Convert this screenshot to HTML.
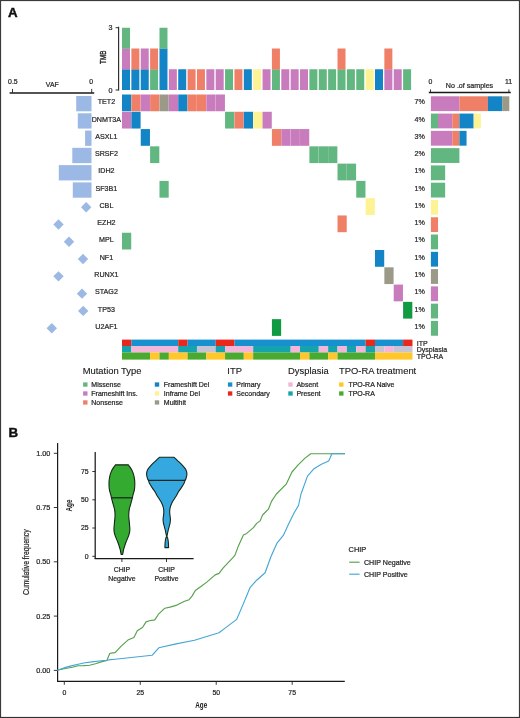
<!DOCTYPE html>
<html><head><meta charset="utf-8"><style>
html,body{margin:0;padding:0;background:#fff;}
#wrap{position:relative;width:520px;height:718px;overflow:hidden;background:#fff;}
svg{position:absolute;left:0;top:0;will-change:transform;}
svg text{font-family:"Liberation Sans",sans-serif;}
</style></head><body><div id="wrap">
<svg width="520" height="718" viewBox="0 0 520 718">
<rect x="0" y="0" width="520" height="718" fill="#fff"/>
<text x="8.00" y="17.30" font-size="13.3" text-anchor="start" fill="#111" font-weight="bold" stroke="#111" stroke-width="0.45">A</text>
<text x="8.50" y="436.50" font-size="13.3" text-anchor="start" fill="#111" font-weight="bold" stroke="#111" stroke-width="0.45">B</text>
<rect x="122.00" y="69.25" width="8.00" height="20.75" fill="#1384c5"/>
<rect x="122.00" y="48.50" width="8.00" height="21.00" fill="#c87bbd"/>
<rect x="122.00" y="27.75" width="8.00" height="21.00" fill="#62b67f"/>
<rect x="131.37" y="69.25" width="8.00" height="20.75" fill="#1384c5"/>
<rect x="131.37" y="48.50" width="8.00" height="21.00" fill="#f07f67"/>
<rect x="140.74" y="69.25" width="8.00" height="20.75" fill="#1384c5"/>
<rect x="140.74" y="48.50" width="8.00" height="21.00" fill="#c87bbd"/>
<rect x="150.11" y="69.25" width="8.00" height="20.75" fill="#62b67f"/>
<rect x="150.11" y="48.50" width="8.00" height="21.00" fill="#f07f67"/>
<rect x="159.48" y="48.50" width="8.00" height="41.50" fill="#1384c5"/>
<rect x="159.48" y="27.75" width="8.00" height="21.00" fill="#62b67f"/>
<rect x="168.85" y="69.25" width="8.00" height="20.75" fill="#c87bbd"/>
<rect x="178.22" y="69.25" width="8.00" height="20.75" fill="#1384c5"/>
<rect x="187.59" y="69.25" width="8.00" height="20.75" fill="#f07f67"/>
<rect x="196.96" y="69.25" width="8.00" height="20.75" fill="#f07f67"/>
<rect x="206.33" y="69.25" width="8.00" height="20.75" fill="#c87bbd"/>
<rect x="215.70" y="69.25" width="8.00" height="20.75" fill="#c87bbd"/>
<rect x="225.07" y="69.25" width="8.00" height="20.75" fill="#62b67f"/>
<rect x="234.44" y="69.25" width="8.00" height="20.75" fill="#f07f67"/>
<rect x="243.81" y="69.25" width="8.00" height="20.75" fill="#1384c5"/>
<rect x="253.18" y="69.25" width="8.00" height="20.75" fill="#fdf294"/>
<rect x="262.55" y="69.25" width="8.00" height="20.75" fill="#c87bbd"/>
<rect x="271.92" y="69.25" width="8.00" height="20.75" fill="#62b67f"/>
<rect x="271.92" y="48.50" width="8.00" height="21.00" fill="#f07f67"/>
<rect x="281.29" y="69.25" width="8.00" height="20.75" fill="#c87bbd"/>
<rect x="290.66" y="69.25" width="8.00" height="20.75" fill="#c87bbd"/>
<rect x="300.03" y="69.25" width="8.00" height="20.75" fill="#c87bbd"/>
<rect x="309.40" y="69.25" width="8.00" height="20.75" fill="#62b67f"/>
<rect x="318.77" y="69.25" width="8.00" height="20.75" fill="#62b67f"/>
<rect x="328.14" y="69.25" width="8.00" height="20.75" fill="#62b67f"/>
<rect x="337.51" y="69.25" width="8.00" height="20.75" fill="#62b67f"/>
<rect x="337.51" y="48.50" width="8.00" height="21.00" fill="#f07f67"/>
<rect x="346.88" y="69.25" width="8.00" height="20.75" fill="#62b67f"/>
<rect x="356.25" y="69.25" width="8.00" height="20.75" fill="#62b67f"/>
<rect x="365.62" y="69.25" width="8.00" height="20.75" fill="#fdf294"/>
<rect x="374.99" y="69.25" width="8.00" height="20.75" fill="#1384c5"/>
<rect x="384.36" y="69.25" width="8.00" height="20.75" fill="#c87bbd"/>
<rect x="384.36" y="48.50" width="8.00" height="21.00" fill="#f07f67"/>
<rect x="393.73" y="69.25" width="8.00" height="20.75" fill="#c87bbd"/>
<rect x="403.10" y="69.25" width="8.00" height="20.75" fill="#62b67f"/>
<line x1="118.60" y1="26.80" x2="118.60" y2="90.60" stroke="#2a2a2a" stroke-width="1.15"/>
<line x1="115.60" y1="27.70" x2="118.60" y2="27.70" stroke="#2a2a2a" stroke-width="1.0"/>
<line x1="115.60" y1="90.00" x2="118.60" y2="90.00" stroke="#2a2a2a" stroke-width="1.0"/>
<text x="112.50" y="30.20" font-size="7.2" text-anchor="end" fill="#262626" stroke="#262626" stroke-width="0.22">3</text>
<text x="112.50" y="92.60" font-size="7.2" text-anchor="end" fill="#262626" stroke="#262626" stroke-width="0.22">0</text>
<text transform="translate(106.3,57.3) rotate(-90) scale(0.66,1)" font-size="9.5" text-anchor="middle" fill="#1a1a1a" stroke="#1a1a1a" stroke-width="0.35">TMB</text>
<rect x="122.00" y="94.50" width="9.22" height="16.75" fill="#1384c5"/>
<rect x="131.37" y="94.50" width="9.22" height="16.75" fill="#f07f67"/>
<rect x="140.74" y="94.50" width="9.22" height="16.75" fill="#c87bbd"/>
<rect x="150.11" y="94.50" width="9.22" height="16.75" fill="#f07f67"/>
<rect x="159.48" y="94.50" width="9.22" height="16.75" fill="#9b9a89"/>
<rect x="168.85" y="94.50" width="9.22" height="16.75" fill="#c87bbd"/>
<rect x="178.22" y="94.50" width="9.22" height="16.75" fill="#1384c5"/>
<rect x="187.59" y="94.50" width="9.22" height="16.75" fill="#f07f67"/>
<rect x="196.96" y="94.50" width="9.22" height="16.75" fill="#f07f67"/>
<rect x="206.33" y="94.50" width="9.22" height="16.75" fill="#c87bbd"/>
<rect x="215.70" y="94.50" width="9.22" height="16.75" fill="#c87bbd"/>
<rect x="122.00" y="111.78" width="9.22" height="16.75" fill="#c87bbd"/>
<rect x="131.37" y="111.78" width="9.22" height="16.75" fill="#1384c5"/>
<rect x="225.07" y="111.78" width="9.22" height="16.75" fill="#62b67f"/>
<rect x="234.44" y="111.78" width="9.22" height="16.75" fill="#f07f67"/>
<rect x="243.81" y="111.78" width="9.22" height="16.75" fill="#1384c5"/>
<rect x="253.18" y="111.78" width="9.22" height="16.75" fill="#fdf294"/>
<rect x="262.55" y="111.78" width="9.22" height="16.75" fill="#c87bbd"/>
<rect x="140.74" y="129.06" width="9.22" height="16.75" fill="#1384c5"/>
<rect x="271.92" y="129.06" width="9.22" height="16.75" fill="#f07f67"/>
<rect x="281.29" y="129.06" width="9.22" height="16.75" fill="#c87bbd"/>
<rect x="290.66" y="129.06" width="9.22" height="16.75" fill="#c87bbd"/>
<rect x="300.03" y="129.06" width="9.22" height="16.75" fill="#c87bbd"/>
<rect x="150.11" y="146.34" width="9.22" height="16.75" fill="#62b67f"/>
<rect x="309.40" y="146.34" width="9.22" height="16.75" fill="#62b67f"/>
<rect x="318.77" y="146.34" width="9.22" height="16.75" fill="#62b67f"/>
<rect x="328.14" y="146.34" width="9.22" height="16.75" fill="#62b67f"/>
<rect x="337.51" y="163.62" width="9.22" height="16.75" fill="#62b67f"/>
<rect x="346.88" y="163.62" width="9.22" height="16.75" fill="#62b67f"/>
<rect x="159.48" y="180.90" width="9.22" height="16.75" fill="#62b67f"/>
<rect x="356.25" y="180.90" width="9.22" height="16.75" fill="#62b67f"/>
<rect x="365.62" y="198.18" width="9.22" height="16.75" fill="#fdf294"/>
<rect x="337.51" y="215.46" width="9.22" height="16.75" fill="#f07f67"/>
<rect x="122.00" y="232.74" width="9.22" height="16.75" fill="#62b67f"/>
<rect x="374.99" y="250.02" width="9.22" height="16.75" fill="#1384c5"/>
<rect x="384.36" y="267.30" width="9.22" height="16.75" fill="#9b9a89"/>
<rect x="393.73" y="284.58" width="9.22" height="16.75" fill="#c87bbd"/>
<rect x="403.10" y="301.86" width="9.22" height="16.75" fill="#109b42"/>
<rect x="271.92" y="319.14" width="9.22" height="16.75" fill="#109b42"/>
<rect x="122.00" y="339.60" width="9.37" height="6.45" fill="#e8281c"/>
<rect x="131.37" y="339.60" width="46.85" height="6.45" fill="#1690ce"/>
<rect x="178.22" y="339.60" width="9.37" height="6.45" fill="#e8281c"/>
<rect x="187.59" y="339.60" width="28.11" height="6.45" fill="#1690ce"/>
<rect x="215.70" y="339.60" width="18.74" height="6.45" fill="#e8281c"/>
<rect x="234.44" y="339.60" width="131.18" height="6.45" fill="#1690ce"/>
<rect x="365.62" y="339.60" width="9.37" height="6.45" fill="#e8281c"/>
<rect x="374.99" y="339.60" width="28.11" height="6.45" fill="#1690ce"/>
<rect x="403.10" y="339.60" width="9.37" height="6.45" fill="#e8281c"/>
<rect x="122.00" y="346.00" width="9.37" height="6.55" fill="#15a3ae"/>
<rect x="131.37" y="346.00" width="46.85" height="6.55" fill="#f3b6d8"/>
<rect x="178.22" y="346.00" width="18.74" height="6.55" fill="#15a3ae"/>
<rect x="196.96" y="346.00" width="18.74" height="6.55" fill="#c6c3d2"/>
<rect x="215.70" y="346.00" width="9.37" height="6.55" fill="#15a3ae"/>
<rect x="225.07" y="346.00" width="28.11" height="6.55" fill="#f3b6d8"/>
<rect x="253.18" y="346.00" width="37.48" height="6.55" fill="#15a3ae"/>
<rect x="290.66" y="346.00" width="9.37" height="6.55" fill="#f3b6d8"/>
<rect x="300.03" y="346.00" width="18.74" height="6.55" fill="#15a3ae"/>
<rect x="318.77" y="346.00" width="9.37" height="6.55" fill="#f3b6d8"/>
<rect x="328.14" y="346.00" width="9.37" height="6.55" fill="#15a3ae"/>
<rect x="337.51" y="346.00" width="9.37" height="6.55" fill="#f3b6d8"/>
<rect x="346.88" y="346.00" width="9.37" height="6.55" fill="#15a3ae"/>
<rect x="356.25" y="346.00" width="9.37" height="6.55" fill="#f3b6d8"/>
<rect x="365.62" y="346.00" width="9.37" height="6.55" fill="#15a3ae"/>
<rect x="374.99" y="346.00" width="9.37" height="6.55" fill="#c6c3d2"/>
<rect x="384.36" y="346.00" width="9.37" height="6.55" fill="#f3b6d8"/>
<rect x="393.73" y="346.00" width="18.74" height="6.55" fill="#c6c3d2"/>
<rect x="122.00" y="352.50" width="28.11" height="7.10" fill="#4aaa2f"/>
<rect x="150.11" y="352.50" width="9.37" height="7.10" fill="#ffc72a"/>
<rect x="159.48" y="352.50" width="9.37" height="7.10" fill="#4aaa2f"/>
<rect x="168.85" y="352.50" width="18.74" height="7.10" fill="#ffc72a"/>
<rect x="187.59" y="352.50" width="18.74" height="7.10" fill="#4aaa2f"/>
<rect x="206.33" y="352.50" width="18.74" height="7.10" fill="#ffc72a"/>
<rect x="225.07" y="352.50" width="18.74" height="7.10" fill="#4aaa2f"/>
<rect x="243.81" y="352.50" width="9.37" height="7.10" fill="#ffc72a"/>
<rect x="253.18" y="352.50" width="46.85" height="7.10" fill="#4aaa2f"/>
<rect x="300.03" y="352.50" width="9.37" height="7.10" fill="#ffc72a"/>
<rect x="309.40" y="352.50" width="18.74" height="7.10" fill="#4aaa2f"/>
<rect x="328.14" y="352.50" width="9.37" height="7.10" fill="#ffc72a"/>
<rect x="337.51" y="352.50" width="37.48" height="7.10" fill="#4aaa2f"/>
<rect x="374.99" y="352.50" width="37.48" height="7.10" fill="#ffc72a"/>
<text x="416.80" y="345.50" font-size="7.0" text-anchor="start" fill="#262626" stroke="#262626" stroke-width="0.22">ITP</text>
<text x="416.80" y="352.00" font-size="7.0" text-anchor="start" fill="#262626" stroke="#262626" stroke-width="0.22">Dysplasia</text>
<text x="416.80" y="359.20" font-size="7.0" text-anchor="start" fill="#262626" stroke="#262626" stroke-width="0.22">TPO-RA</text>
<text transform="translate(106.40,104.25) scale(0.93,1)" font-size="7.7" text-anchor="middle" fill="#262626" stroke="#262626" stroke-width="0.22">TET2</text>
<text transform="translate(106.40,121.53) scale(0.93,1)" font-size="7.7" text-anchor="middle" fill="#262626" stroke="#262626" stroke-width="0.22">DNMT3A</text>
<text transform="translate(106.40,138.81) scale(0.93,1)" font-size="7.7" text-anchor="middle" fill="#262626" stroke="#262626" stroke-width="0.22">ASXL1</text>
<text transform="translate(106.40,156.09) scale(0.93,1)" font-size="7.7" text-anchor="middle" fill="#262626" stroke="#262626" stroke-width="0.22">SRSF2</text>
<text transform="translate(106.40,173.37) scale(0.93,1)" font-size="7.7" text-anchor="middle" fill="#262626" stroke="#262626" stroke-width="0.22">IDH2</text>
<text transform="translate(106.40,190.65) scale(0.93,1)" font-size="7.7" text-anchor="middle" fill="#262626" stroke="#262626" stroke-width="0.22">SF3B1</text>
<text transform="translate(106.40,207.93) scale(0.93,1)" font-size="7.7" text-anchor="middle" fill="#262626" stroke="#262626" stroke-width="0.22">CBL</text>
<text transform="translate(106.40,225.21) scale(0.93,1)" font-size="7.7" text-anchor="middle" fill="#262626" stroke="#262626" stroke-width="0.22">EZH2</text>
<text transform="translate(106.40,242.49) scale(0.93,1)" font-size="7.7" text-anchor="middle" fill="#262626" stroke="#262626" stroke-width="0.22">MPL</text>
<text transform="translate(106.40,259.77) scale(0.93,1)" font-size="7.7" text-anchor="middle" fill="#262626" stroke="#262626" stroke-width="0.22">NF1</text>
<text transform="translate(106.40,277.05) scale(0.93,1)" font-size="7.7" text-anchor="middle" fill="#262626" stroke="#262626" stroke-width="0.22">RUNX1</text>
<text transform="translate(106.40,294.33) scale(0.93,1)" font-size="7.7" text-anchor="middle" fill="#262626" stroke="#262626" stroke-width="0.22">STAG2</text>
<text transform="translate(106.40,311.61) scale(0.93,1)" font-size="7.7" text-anchor="middle" fill="#262626" stroke="#262626" stroke-width="0.22">TP53</text>
<text transform="translate(106.40,328.89) scale(0.93,1)" font-size="7.7" text-anchor="middle" fill="#262626" stroke="#262626" stroke-width="0.22">U2AF1</text>
<line x1="9.60" y1="93.00" x2="94.20" y2="93.00" stroke="#1a1a1a" stroke-width="1.4"/>
<line x1="12.50" y1="88.90" x2="12.50" y2="92.90" stroke="#222" stroke-width="0.9"/>
<line x1="91.70" y1="88.90" x2="91.70" y2="92.90" stroke="#222" stroke-width="0.9"/>
<text x="12.90" y="83.80" font-size="6.9" text-anchor="middle" fill="#262626" stroke="#262626" stroke-width="0.22">0.5</text>
<text x="91.20" y="83.80" font-size="6.9" text-anchor="middle" fill="#262626" stroke="#262626" stroke-width="0.22">0</text>
<text x="52.30" y="86.90" font-size="6.9" text-anchor="middle" fill="#262626" stroke="#262626" stroke-width="0.22">VAF</text>
<rect x="76.20" y="96.00" width="15.30" height="15.30" fill="#9cb8e4"/>
<rect x="77.80" y="113.28" width="13.70" height="15.30" fill="#9cb8e4"/>
<rect x="85.10" y="130.56" width="6.40" height="15.30" fill="#9cb8e4"/>
<rect x="72.30" y="147.84" width="19.20" height="15.30" fill="#9cb8e4"/>
<rect x="58.80" y="165.12" width="32.70" height="15.30" fill="#9cb8e4"/>
<rect x="72.80" y="182.40" width="18.70" height="15.30" fill="#9cb8e4"/>
<path d="M86.20 202.03 L91.40 207.23 L86.20 212.43 L81.00 207.23 Z" fill="#9cb8e4"/>
<path d="M58.50 219.31 L63.70 224.51 L58.50 229.71 L53.30 224.51 Z" fill="#9cb8e4"/>
<path d="M69.00 236.59 L74.20 241.79 L69.00 246.99 L63.80 241.79 Z" fill="#9cb8e4"/>
<path d="M83.00 253.87 L88.20 259.07 L83.00 264.27 L77.80 259.07 Z" fill="#9cb8e4"/>
<path d="M58.50 271.15 L63.70 276.35 L58.50 281.55 L53.30 276.35 Z" fill="#9cb8e4"/>
<path d="M82.00 288.43 L87.20 293.63 L82.00 298.83 L76.80 293.63 Z" fill="#9cb8e4"/>
<path d="M83.20 305.71 L88.40 310.91 L83.20 316.11 L78.00 310.91 Z" fill="#9cb8e4"/>
<path d="M51.80 322.99 L57.00 328.19 L51.80 333.39 L46.60 328.19 Z" fill="#9cb8e4"/>
<line x1="428.80" y1="92.50" x2="510.80" y2="92.50" stroke="#1a1a1a" stroke-width="1.3"/>
<line x1="430.50" y1="89.40" x2="430.50" y2="92.40" stroke="#222" stroke-width="0.9"/>
<line x1="508.90" y1="89.40" x2="508.90" y2="92.40" stroke="#222" stroke-width="0.9"/>
<text x="430.50" y="83.80" font-size="6.9" text-anchor="middle" fill="#262626" stroke="#262626" stroke-width="0.22">0</text>
<text x="508.60" y="83.80" font-size="6.9" text-anchor="middle" fill="#262626" stroke="#262626" stroke-width="0.22">11</text>
<text x="469.50" y="87.50" font-size="7.1" text-anchor="middle" fill="#262626" stroke="#262626" stroke-width="0.22">No .of samples</text>
<rect x="430.90" y="96.30" width="28.52" height="14.80" fill="#c87bbd"/>
<rect x="459.42" y="96.30" width="28.52" height="14.80" fill="#f07f67"/>
<rect x="487.94" y="96.30" width="14.26" height="14.80" fill="#1384c5"/>
<rect x="502.20" y="96.30" width="7.13" height="14.80" fill="#9b9a89"/>
<text transform="translate(424.80,104.25) scale(0.93,1)" font-size="7.7" text-anchor="end" fill="#262626" stroke="#262626" stroke-width="0.22">7%</text>
<rect x="430.90" y="113.58" width="7.13" height="14.80" fill="#62b67f"/>
<rect x="438.03" y="113.58" width="14.26" height="14.80" fill="#c87bbd"/>
<rect x="452.29" y="113.58" width="7.13" height="14.80" fill="#f07f67"/>
<rect x="459.42" y="113.58" width="14.26" height="14.80" fill="#1384c5"/>
<rect x="473.68" y="113.58" width="7.13" height="14.80" fill="#fdf294"/>
<text transform="translate(424.80,121.53) scale(0.93,1)" font-size="7.7" text-anchor="end" fill="#262626" stroke="#262626" stroke-width="0.22">4%</text>
<rect x="430.90" y="130.86" width="21.39" height="14.80" fill="#c87bbd"/>
<rect x="452.29" y="130.86" width="7.13" height="14.80" fill="#f07f67"/>
<rect x="459.42" y="130.86" width="7.13" height="14.80" fill="#1384c5"/>
<text transform="translate(424.80,138.81) scale(0.93,1)" font-size="7.7" text-anchor="end" fill="#262626" stroke="#262626" stroke-width="0.22">3%</text>
<rect x="430.90" y="148.14" width="28.52" height="14.80" fill="#62b67f"/>
<text transform="translate(424.80,156.09) scale(0.93,1)" font-size="7.7" text-anchor="end" fill="#262626" stroke="#262626" stroke-width="0.22">2%</text>
<rect x="430.90" y="165.42" width="14.26" height="14.80" fill="#62b67f"/>
<text transform="translate(424.80,173.37) scale(0.93,1)" font-size="7.7" text-anchor="end" fill="#262626" stroke="#262626" stroke-width="0.22">1%</text>
<rect x="430.90" y="182.70" width="14.26" height="14.80" fill="#62b67f"/>
<text transform="translate(424.80,190.65) scale(0.93,1)" font-size="7.7" text-anchor="end" fill="#262626" stroke="#262626" stroke-width="0.22">1%</text>
<rect x="430.90" y="199.98" width="7.13" height="14.80" fill="#fdf294"/>
<text transform="translate(424.80,207.93) scale(0.93,1)" font-size="7.7" text-anchor="end" fill="#262626" stroke="#262626" stroke-width="0.22">1%</text>
<rect x="430.90" y="217.26" width="7.13" height="14.80" fill="#f07f67"/>
<text transform="translate(424.80,225.21) scale(0.93,1)" font-size="7.7" text-anchor="end" fill="#262626" stroke="#262626" stroke-width="0.22">1%</text>
<rect x="430.90" y="234.54" width="7.13" height="14.80" fill="#62b67f"/>
<text transform="translate(424.80,242.49) scale(0.93,1)" font-size="7.7" text-anchor="end" fill="#262626" stroke="#262626" stroke-width="0.22">1%</text>
<rect x="430.90" y="251.82" width="7.13" height="14.80" fill="#1384c5"/>
<text transform="translate(424.80,259.77) scale(0.93,1)" font-size="7.7" text-anchor="end" fill="#262626" stroke="#262626" stroke-width="0.22">1%</text>
<rect x="430.90" y="269.10" width="7.13" height="14.80" fill="#9b9a89"/>
<text transform="translate(424.80,277.05) scale(0.93,1)" font-size="7.7" text-anchor="end" fill="#262626" stroke="#262626" stroke-width="0.22">1%</text>
<rect x="430.90" y="286.38" width="7.13" height="14.80" fill="#c87bbd"/>
<text transform="translate(424.80,294.33) scale(0.93,1)" font-size="7.7" text-anchor="end" fill="#262626" stroke="#262626" stroke-width="0.22">1%</text>
<rect x="430.90" y="303.66" width="7.13" height="14.80" fill="#62b67f"/>
<text transform="translate(424.80,311.61) scale(0.93,1)" font-size="7.7" text-anchor="end" fill="#262626" stroke="#262626" stroke-width="0.22">1%</text>
<rect x="430.90" y="320.94" width="7.13" height="14.80" fill="#62b67f"/>
<text transform="translate(424.80,328.89) scale(0.93,1)" font-size="7.7" text-anchor="end" fill="#262626" stroke="#262626" stroke-width="0.22">1%</text>
<text x="82.70" y="374.40" font-size="9.4" text-anchor="start" fill="#1a1a1a" stroke="#1a1a1a" stroke-width="0.12">Mutation Type</text>
<rect x="83.10" y="382.40" width="4.40" height="4.30" fill="#62b67f"/>
<text x="91.30" y="387.10" font-size="7.0" text-anchor="start" fill="#262626" stroke="#262626" stroke-width="0.22">Missense</text>
<rect x="83.10" y="391.35" width="4.40" height="4.30" fill="#c87bbd"/>
<text x="91.30" y="396.05" font-size="7.0" text-anchor="start" fill="#262626" stroke="#262626" stroke-width="0.22">Frameshift Ins.</text>
<rect x="83.10" y="400.30" width="4.40" height="4.30" fill="#f07f67"/>
<text x="91.30" y="405.00" font-size="7.0" text-anchor="start" fill="#262626" stroke="#262626" stroke-width="0.22">Nonsense</text>
<rect x="154.80" y="382.40" width="4.40" height="4.30" fill="#1384c5"/>
<text x="163.80" y="387.10" font-size="7.0" text-anchor="start" fill="#262626" stroke="#262626" stroke-width="0.22">Frameshift Del</text>
<rect x="154.80" y="391.35" width="4.40" height="4.30" fill="#fdf294"/>
<text x="163.80" y="396.05" font-size="7.0" text-anchor="start" fill="#262626" stroke="#262626" stroke-width="0.22">Inframe Del</text>
<rect x="154.80" y="400.30" width="4.40" height="4.30" fill="#9b9a89"/>
<text x="163.80" y="405.00" font-size="7.0" text-anchor="start" fill="#262626" stroke="#262626" stroke-width="0.22">Multihit</text>
<text x="227.30" y="374.40" font-size="9.4" text-anchor="start" fill="#1a1a1a" stroke="#1a1a1a" stroke-width="0.12">ITP</text>
<rect x="227.90" y="382.40" width="4.40" height="4.30" fill="#1690ce"/>
<text x="236.30" y="387.10" font-size="7.0" text-anchor="start" fill="#262626" stroke="#262626" stroke-width="0.22">Primary</text>
<rect x="227.90" y="391.35" width="4.40" height="4.30" fill="#e8281c"/>
<text x="236.30" y="396.05" font-size="7.0" text-anchor="start" fill="#262626" stroke="#262626" stroke-width="0.22">Secondary</text>
<text x="288.10" y="374.40" font-size="9.4" text-anchor="start" fill="#1a1a1a" stroke="#1a1a1a" stroke-width="0.12">Dysplasia</text>
<rect x="288.30" y="382.40" width="4.40" height="4.30" fill="#f3b6d8"/>
<text x="296.40" y="387.10" font-size="7.0" text-anchor="start" fill="#262626" stroke="#262626" stroke-width="0.22">Absent</text>
<rect x="288.30" y="391.35" width="4.40" height="4.30" fill="#15a3ae"/>
<text x="296.40" y="396.05" font-size="7.0" text-anchor="start" fill="#262626" stroke="#262626" stroke-width="0.22">Present</text>
<text x="339.10" y="374.40" font-size="9.4" text-anchor="start" fill="#1a1a1a" stroke="#1a1a1a" stroke-width="0.12">TPO-RA treatment</text>
<rect x="339.10" y="382.40" width="4.40" height="4.30" fill="#ffc72a"/>
<text x="348.40" y="387.10" font-size="7.0" text-anchor="start" fill="#262626" stroke="#262626" stroke-width="0.22">TPO-RA Naive</text>
<rect x="339.10" y="391.35" width="4.40" height="4.30" fill="#4aaa2f"/>
<text x="348.40" y="396.05" font-size="7.0" text-anchor="start" fill="#262626" stroke="#262626" stroke-width="0.22">TPO-RA</text>
<line x1="57.60" y1="443.00" x2="57.60" y2="681.60" stroke="#1a1a1a" stroke-width="1.2"/>
<line x1="57.00" y1="681.30" x2="344.80" y2="681.30" stroke="#1a1a1a" stroke-width="1.25"/>
<line x1="53.80" y1="453.30" x2="57.60" y2="453.30" stroke="#222" stroke-width="0.9"/>
<text x="50.40" y="455.80" font-size="7.3" text-anchor="end" fill="#262626" stroke="#262626" stroke-width="0.22">1.00</text>
<line x1="53.80" y1="507.50" x2="57.60" y2="507.50" stroke="#222" stroke-width="0.9"/>
<text x="50.40" y="510.00" font-size="7.3" text-anchor="end" fill="#262626" stroke="#262626" stroke-width="0.22">0.75</text>
<line x1="53.80" y1="561.80" x2="57.60" y2="561.80" stroke="#222" stroke-width="0.9"/>
<text x="50.40" y="564.30" font-size="7.3" text-anchor="end" fill="#262626" stroke="#262626" stroke-width="0.22">0.50</text>
<line x1="53.80" y1="616.10" x2="57.60" y2="616.10" stroke="#222" stroke-width="0.9"/>
<text x="50.40" y="618.60" font-size="7.3" text-anchor="end" fill="#262626" stroke="#262626" stroke-width="0.22">0.25</text>
<line x1="53.80" y1="670.40" x2="57.60" y2="670.40" stroke="#222" stroke-width="0.9"/>
<text x="50.40" y="672.90" font-size="7.3" text-anchor="end" fill="#262626" stroke="#262626" stroke-width="0.22">0.00</text>
<line x1="64.30" y1="681.30" x2="64.30" y2="684.80" stroke="#222" stroke-width="0.9"/>
<text x="64.30" y="695.10" font-size="6.9" text-anchor="middle" fill="#262626" stroke="#262626" stroke-width="0.22">0</text>
<line x1="140.27" y1="681.30" x2="140.27" y2="684.80" stroke="#222" stroke-width="0.9"/>
<text x="140.27" y="695.10" font-size="6.9" text-anchor="middle" fill="#262626" stroke="#262626" stroke-width="0.22">25</text>
<line x1="216.23" y1="681.30" x2="216.23" y2="684.80" stroke="#222" stroke-width="0.9"/>
<text x="216.23" y="695.10" font-size="6.9" text-anchor="middle" fill="#262626" stroke="#262626" stroke-width="0.22">50</text>
<line x1="292.20" y1="681.30" x2="292.20" y2="684.80" stroke="#222" stroke-width="0.9"/>
<text x="292.20" y="695.10" font-size="6.9" text-anchor="middle" fill="#262626" stroke="#262626" stroke-width="0.22">75</text>
<text transform="translate(201.2,708.3) scale(0.77,1)" font-size="8.2" text-anchor="middle" fill="#1a1a1a" font-weight="bold">Age</text>
<text transform="translate(29.4,562.2) rotate(-90) scale(0.83,1)" font-size="8.2" stroke="#222" stroke-width="0.2" text-anchor="middle" fill="#222">Cumulative frequency</text>
<path d="M57.30 670.20 L64.20 668.80 L72.30 667.20 L78.10 665.80 L83.80 665.60 L89.60 665.20 L95.40 663.70 L101.20 661.90 L106.90 660.50 L107.40 659.30 L109.70 653.50 L112.40 652.90 L115.10 652.60 L121.20 646.10 L127.90 640.10 L133.90 637.40 L137.30 630.70 L142.70 627.30 L146.00 621.90 L149.40 620.80 L154.80 619.90 L158.80 613.80 L164.90 608.20 L170.00 607.10 L176.90 605.10 L184.60 601.30 L189.10 599.70 L192.20 595.90 L195.30 590.50 L200.60 586.70 L206.80 582.10 L215.20 574.90 L219.00 573.40 L222.80 568.30 L233.60 556.80 L235.00 555.10 L238.40 545.90 L243.40 535.10 L246.70 533.40 L253.40 527.60 L256.70 523.40 L260.10 520.90 L262.60 515.00 L268.40 509.20 L271.50 501.40 L276.40 494.00 L286.20 484.20 L292.00 472.00 L297.70 465.40 L305.00 458.10 L310.80 453.70 L345.00 453.70" fill="none" stroke="#55a24a" stroke-width="1.15" stroke-linejoin="round"/>
<path d="M57.30 670.20 L66.50 667.10 L72.30 665.60 L78.10 664.20 L85.00 662.80 L91.90 661.90 L101.20 660.80 L106.90 660.20 L110.40 659.60 L115.00 659.20 L152.10 655.30 L158.80 647.80 L175.00 644.10 L194.50 640.30 L219.00 632.70 L225.10 628.10 L236.70 619.40 L243.40 603.60 L250.00 587.70 L256.70 580.20 L265.10 572.70 L270.90 556.80 L276.80 543.40 L283.50 535.10 L288.50 524.20 L294.30 512.50 L298.50 505.50 L301.00 494.00 L307.50 476.10 L314.00 468.70 L321.40 464.30 L328.70 461.00 L330.40 457.30 L331.70 453.70 L345.00 453.70" fill="none" stroke="#45a6d6" stroke-width="1.15" stroke-linejoin="round"/>
<text x="348.60" y="552.10" font-size="7.4" text-anchor="start" fill="#262626" stroke="#262626" stroke-width="0.22">CHIP</text>
<line x1="349.20" y1="562.20" x2="359.60" y2="562.20" stroke="#55a24a" stroke-width="1.15"/>
<line x1="349.20" y1="574.20" x2="359.60" y2="574.20" stroke="#45a6d6" stroke-width="1.15"/>
<text x="364.00" y="565.20" font-size="7.1" text-anchor="start" fill="#262626" stroke="#262626" stroke-width="0.22">CHIP Negative</text>
<text x="364.00" y="577.20" font-size="7.1" text-anchor="start" fill="#262626" stroke="#262626" stroke-width="0.22">CHIP Positive</text>
<line x1="95.20" y1="452.10" x2="95.20" y2="558.90" stroke="#1a1a1a" stroke-width="1.25"/>
<line x1="94.70" y1="558.70" x2="193.60" y2="558.70" stroke="#1a1a1a" stroke-width="1.25"/>
<line x1="92.30" y1="471.50" x2="95.30" y2="471.50" stroke="#222" stroke-width="0.9"/>
<text x="88.60" y="473.90" font-size="6.9" text-anchor="end" fill="#262626" stroke="#262626" stroke-width="0.22">75</text>
<line x1="92.30" y1="499.80" x2="95.30" y2="499.80" stroke="#222" stroke-width="0.9"/>
<text x="88.60" y="502.20" font-size="6.9" text-anchor="end" fill="#262626" stroke="#262626" stroke-width="0.22">50</text>
<line x1="92.30" y1="528.00" x2="95.30" y2="528.00" stroke="#222" stroke-width="0.9"/>
<text x="88.60" y="530.40" font-size="6.9" text-anchor="end" fill="#262626" stroke="#262626" stroke-width="0.22">25</text>
<line x1="92.30" y1="556.30" x2="95.30" y2="556.30" stroke="#222" stroke-width="0.9"/>
<text x="88.60" y="558.70" font-size="6.9" text-anchor="end" fill="#262626" stroke="#262626" stroke-width="0.22">0</text>
<line x1="121.90" y1="558.70" x2="121.90" y2="562.00" stroke="#222" stroke-width="0.9"/>
<line x1="166.50" y1="558.70" x2="166.50" y2="562.00" stroke="#222" stroke-width="0.9"/>
<text x="121.90" y="572.40" font-size="6.9" text-anchor="middle" fill="#262626" stroke="#262626" stroke-width="0.22">CHIP</text>
<text x="121.90" y="581.40" font-size="6.9" text-anchor="middle" fill="#262626" stroke="#262626" stroke-width="0.22">Negative</text>
<text x="166.50" y="572.40" font-size="6.9" text-anchor="middle" fill="#262626" stroke="#262626" stroke-width="0.22">CHIP</text>
<text x="166.50" y="581.40" font-size="6.9" text-anchor="middle" fill="#262626" stroke="#262626" stroke-width="0.22">Positive</text>
<text transform="translate(72.2,505.5) rotate(-90) scale(0.78,1)" font-size="8.2" text-anchor="middle" fill="#1a1a1a" font-weight="bold">Age</text>
<path d="M128.35 464.85 C128.59 465.19 129.19 465.97 129.80 466.90 C130.41 467.82 131.40 469.24 132.00 470.40 C132.60 471.56 133.03 472.70 133.40 473.85 C133.77 475.00 133.98 476.14 134.20 477.30 C134.42 478.46 134.60 479.65 134.70 480.80 C134.80 481.95 134.81 483.05 134.80 484.20 C134.79 485.35 134.77 486.53 134.65 487.70 C134.53 488.87 134.37 490.05 134.10 491.20 C133.83 492.35 133.34 493.50 133.05 494.60 C132.76 495.70 132.64 496.58 132.35 497.80 C132.06 499.02 131.64 500.63 131.30 501.90 C130.96 503.17 130.62 504.23 130.30 505.40 C129.98 506.57 129.58 507.75 129.35 508.90 C129.12 510.05 129.00 511.15 128.90 512.30 C128.80 513.45 128.73 514.65 128.75 515.80 C128.77 516.95 128.90 518.05 129.00 519.20 C129.10 520.35 129.24 521.53 129.35 522.70 C129.46 523.87 129.57 525.23 129.65 526.20 C129.73 527.17 129.85 527.55 129.85 528.50 C129.85 529.45 129.83 530.75 129.65 531.90 C129.47 533.05 129.13 534.23 128.75 535.40 C128.37 536.57 127.82 537.75 127.35 538.90 C126.88 540.05 126.38 541.15 125.95 542.30 C125.52 543.45 125.12 544.65 124.75 545.80 C124.38 546.95 123.99 548.05 123.70 549.20 C123.41 550.35 123.17 551.83 123.00 552.70 C122.83 553.57 122.71 554.12 122.65 554.40 L121.15 554.40 C121.09 554.12 120.98 553.57 120.80 552.70 C120.63 551.83 120.39 550.35 120.10 549.20 C119.81 548.05 119.43 546.95 119.05 545.80 C118.68 544.65 118.28 543.45 117.85 542.30 C117.42 541.15 116.92 540.05 116.45 538.90 C115.98 537.75 115.43 536.57 115.05 535.40 C114.67 534.23 114.33 533.05 114.15 531.90 C113.97 530.75 113.95 529.45 113.95 528.50 C113.95 527.55 114.07 527.17 114.15 526.20 C114.23 525.23 114.34 523.87 114.45 522.70 C114.56 521.53 114.70 520.35 114.80 519.20 C114.90 518.05 115.03 516.95 115.05 515.80 C115.07 514.65 115.00 513.45 114.90 512.30 C114.80 511.15 114.68 510.05 114.45 508.90 C114.22 507.75 113.83 506.57 113.50 505.40 C113.17 504.23 112.84 503.17 112.50 501.90 C112.16 500.63 111.74 499.02 111.45 497.80 C111.16 496.58 111.04 495.70 110.75 494.60 C110.46 493.50 109.97 492.35 109.70 491.20 C109.43 490.05 109.27 488.87 109.15 487.70 C109.03 486.53 109.01 485.35 109.00 484.20 C108.99 483.05 109.00 481.95 109.10 480.80 C109.20 479.65 109.38 478.46 109.60 477.30 C109.82 476.14 110.03 475.00 110.40 473.85 C110.77 472.70 111.20 471.56 111.80 470.40 C112.40 469.24 113.39 467.82 114.00 466.90 C114.61 465.97 115.21 465.19 115.45 464.85 Z" fill="#35aa30" stroke="#15261a" stroke-width="1.1" stroke-linejoin="round"/>
<path d="M174.05 457.30 C174.68 457.88 176.40 459.47 177.80 460.80 C179.20 462.13 181.10 463.82 182.45 465.30 C183.80 466.78 185.16 468.23 185.90 469.70 C186.64 471.17 186.88 472.63 186.90 474.10 C186.92 475.57 186.30 477.47 186.00 478.50 C185.70 479.53 185.40 479.55 185.10 480.30 C184.80 481.05 184.79 481.82 184.20 483.00 C183.61 484.18 182.50 485.93 181.55 487.40 C180.60 488.87 179.29 490.53 178.50 491.80 C177.71 493.07 177.51 493.80 176.80 495.00 C176.09 496.20 175.07 497.68 174.25 499.00 C173.43 500.32 172.50 501.58 171.85 502.90 C171.20 504.22 170.71 505.57 170.35 506.90 C169.99 508.23 169.77 509.57 169.70 510.90 C169.62 512.23 169.78 513.58 169.90 514.90 C170.02 516.22 170.37 517.48 170.40 518.80 C170.43 520.12 170.32 521.47 170.10 522.80 C169.88 524.13 169.43 525.48 169.10 526.80 C168.77 528.12 168.40 529.38 168.10 530.70 C167.80 532.02 167.50 533.77 167.30 534.70 C167.10 535.63 166.82 535.63 166.90 536.30 C166.98 536.97 167.55 537.63 167.80 538.70 C168.05 539.77 168.27 541.22 168.40 542.70 C168.53 544.18 168.57 546.78 168.60 547.60 L164.90 547.60 C164.93 546.78 164.97 544.18 165.10 542.70 C165.23 541.22 165.45 539.77 165.70 538.70 C165.95 537.63 166.52 536.97 166.60 536.30 C166.68 535.63 166.40 535.63 166.20 534.70 C166.00 533.77 165.70 532.02 165.40 530.70 C165.10 529.38 164.73 528.12 164.40 526.80 C164.07 525.48 163.62 524.13 163.40 522.80 C163.18 521.47 163.07 520.12 163.10 518.80 C163.13 517.48 163.48 516.22 163.60 514.90 C163.72 513.58 163.88 512.23 163.80 510.90 C163.73 509.57 163.51 508.23 163.15 506.90 C162.79 505.57 162.30 504.22 161.65 502.90 C161.00 501.58 160.07 500.32 159.25 499.00 C158.43 497.68 157.41 496.20 156.70 495.00 C155.99 493.80 155.79 493.07 155.00 491.80 C154.21 490.53 152.90 488.87 151.95 487.40 C151.00 485.93 149.89 484.18 149.30 483.00 C148.71 481.82 148.70 481.05 148.40 480.30 C148.10 479.55 147.80 479.53 147.50 478.50 C147.20 477.47 146.58 475.57 146.60 474.10 C146.62 472.63 146.86 471.17 147.60 469.70 C148.34 468.23 149.70 466.78 151.05 465.30 C152.40 463.82 154.30 462.13 155.70 460.80 C157.10 459.47 158.82 457.88 159.45 457.30 Z" fill="#36a8e0" stroke="#15261a" stroke-width="1.1" stroke-linejoin="round"/>
<line x1="111.20" y1="497.80" x2="132.60" y2="497.80" stroke="#15261a" stroke-width="1.25"/>
<line x1="148.30" y1="480.40" x2="185.20" y2="480.40" stroke="#15261a" stroke-width="1.25"/>
<rect x="0" y="0" width="520" height="1.1" fill="#3a3a3a"/><rect x="0" y="0" width="1.1" height="718" fill="#3a3a3a"/><rect x="518.9" y="0" width="1.1" height="718" fill="#3a3a3a"/><rect x="0" y="716.9" width="520" height="1.1" fill="#333"/>
</svg></div></body></html>
